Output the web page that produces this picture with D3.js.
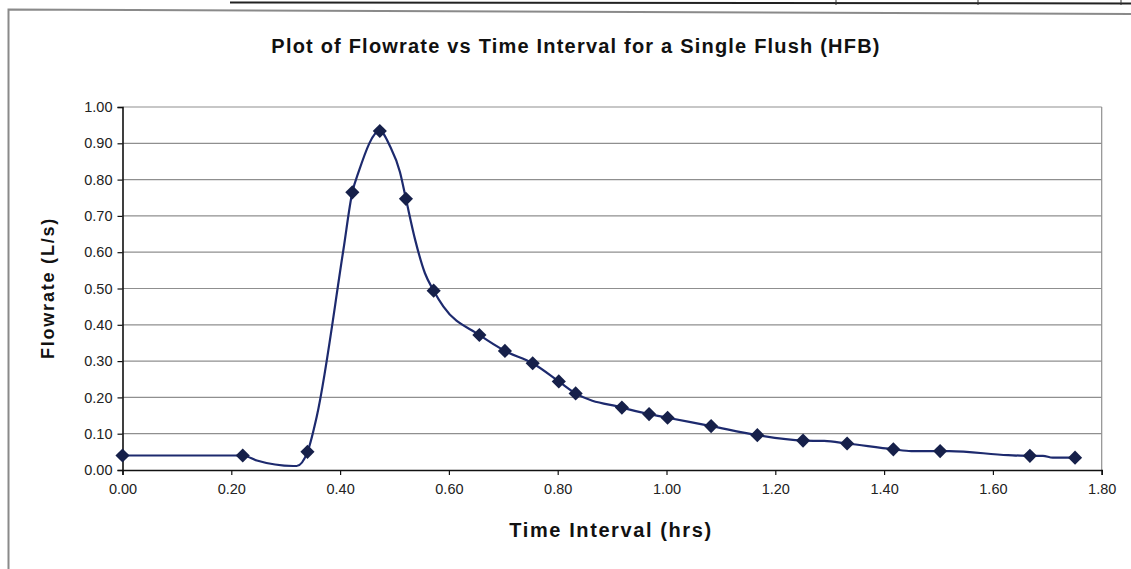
<!DOCTYPE html>
<html>
<head>
<meta charset="utf-8">
<script src="https://cdn.jsdelivr.net/npm/d3@7"></script>
<style>
  html, body { margin: 0; padding: 0; background: #fff; }
  svg { display: block; }
  text { font-family: "Liberation Sans", Arial, sans-serif; }
</style>
</head>
<body>
<svg id="chart" width="1131" height="569"></svg>
<script>
// ---- data ----
const titleText = "Plot of Flowrate vs Time Interval for a Single Flush (HFB)";
const xTitle = "Time Interval (hrs)";
const yTitle = "Flowrate (L/s)";

const xTicks = [0, 0.2, 0.4, 0.6, 0.8, 1.0, 1.2, 1.4, 1.6, 1.8];
const yTicks = [0, 0.1, 0.2, 0.3, 0.4, 0.5, 0.6, 0.7, 0.8, 0.9, 1.0];

// measured points (drawn with diamond markers)
const markerTime = [0, 0.221, 0.340, 0.4225, 0.473, 0.521, 0.572, 0.656, 0.703, 0.754, 0.802, 0.833,
  0.918, 0.968, 1.002, 1.082, 1.167, 1.251, 1.332, 1.417, 1.503, 1.668, 1.751];
const markerFlow = [0.040, 0.040, 0.050, 0.765, 0.934, 0.747, 0.494, 0.372, 0.328, 0.294, 0.244, 0.211,
  0.172, 0.154, 0.144, 0.121, 0.096, 0.081, 0.073, 0.057, 0.052, 0.039, 0.034];

// smoothed trace (line only)
const lineTime = [0, 0.221, 0.247, 0.314, 0.320, 0.340, 0.357, 0.406, 0.4225, 0.434, 0.473, 0.492,
  0.510, 0.521, 0.538, 0.556, 0.572, 0.590, 0.656, 0.703, 0.754, 0.802, 0.833, 0.918, 0.968, 1.002,
  1.082, 1.167, 1.251, 1.290, 1.332, 1.417, 1.450, 1.503, 1.520, 1.628, 1.668, 1.692, 1.710, 1.751];
const lineFlow = [0.040, 0.040, 0.026, 0.011, 0.011, 0.050, 0.147, 0.606, 0.765, 0.821, 0.934, 0.891,
  0.821, 0.747, 0.634, 0.542, 0.494, 0.450, 0.372, 0.328, 0.294, 0.244, 0.211, 0.172, 0.154, 0.144,
  0.121, 0.096, 0.081, 0.080, 0.073, 0.057, 0.052, 0.052, 0.052, 0.041, 0.039, 0.039, 0.034, 0.034];

// ---- layout ----
const svg = d3.select("#chart");
const plot = { left: 122.5, right: 1101.7, top: 107, bottom: 470 };

const x = d3.scaleLinear().domain([0, 1.8]).range([plot.left, plot.right]);
const y = d3.scaleLinear().domain([0, 1.0]).range([plot.bottom, plot.top]);

// page decoration (table edge above and chart frame)
svg.append("line").attr("x1", 230).attr("x2", 1131).attr("y1", 2.5).attr("y2", 3.5)
  .attr("stroke", "#222").attr("stroke-width", 2);
[836, 978, 1121].forEach(v => svg.append("line").attr("x1", v).attr("x2", v)
  .attr("y1", 0).attr("y2", 5).attr("stroke", "#333").attr("stroke-width", 1));
svg.append("path").attr("d", "M8.5,569 L8.5,9.5 L1131,14")
  .attr("fill", "none").attr("stroke", "#8a8a8a").attr("stroke-width", 2);

// gridlines
svg.append("g").selectAll("line").data(yTicks.filter(d => d > 0)).join("line")
  .attr("x1", plot.left).attr("x2", plot.right)
  .attr("y1", d => y(d)).attr("y2", d => y(d))
  .attr("stroke", "#8f8f8f").attr("stroke-width", 1.2);
// plot area right border
svg.append("line").attr("x1", plot.right).attr("x2", plot.right)
  .attr("y1", plot.top).attr("y2", plot.bottom)
  .attr("stroke", "#8f8f8f").attr("stroke-width", 1.2);

// axes
const yAxis = d3.axisLeft(y).tickValues(yTicks).tickFormat(d3.format(".2f")).tickSizeOuter(0).tickSize(5).tickPadding(5);
const xAxis = d3.axisBottom(x).tickValues(xTicks).tickFormat(d3.format(".2f")).tickSizeOuter(0).tickSize(5).tickPadding(9);

const gy = svg.append("g").attr("transform", `translate(${plot.left},0)`).call(yAxis);
const gx = svg.append("g").attr("transform", `translate(0,${plot.bottom})`).call(xAxis);
[gx, gy].forEach(g => {
  g.select(".domain").attr("stroke", "#111").attr("stroke-width", 1.6);
  g.selectAll(".tick line").attr("stroke", "#111").attr("stroke-width", 1.2);
  g.selectAll(".tick text").attr("fill", "#222").style("font-size", "14.5px")
    .style("font-family", "'Liberation Sans', Arial, sans-serif");
});

// line
const lineData = lineTime.map((t, i) => [t, lineFlow[i]]);
svg.append("path").datum(lineData)
  .attr("fill", "none").attr("stroke", "#1d2a6e").attr("stroke-width", 2.2)
  .attr("d", d3.line().x(d => x(d[0])).y(d => y(d[1])).curve(d3.curveMonotoneX));

// markers
const markerData = markerTime.map((t, i) => [t, markerFlow[i]]);
const diamond = d3.symbol().type(d3.symbolSquare).size(100);
svg.append("g").selectAll("path").data(markerData).join("path")
  .attr("d", diamond)
  .attr("transform", d => `translate(${x(d[0])},${y(d[1])}) rotate(45)`)
  .attr("fill", "#16204a");

// titles
svg.append("text").attr("x", 576).attr("y", 53).attr("text-anchor", "middle")
  .style("font-size", "20px").style("font-weight", "bold").style("letter-spacing", "1.2px")
  .attr("fill", "#111").text(titleText);

svg.append("text").attr("x", 611).attr("y", 537).attr("text-anchor", "middle")
  .style("font-size", "20px").style("font-weight", "bold").style("letter-spacing", "1.6px")
  .attr("fill", "#111").text(xTitle);

svg.append("text").attr("transform", "translate(54,288) rotate(-90)").attr("text-anchor", "middle")
  .style("font-size", "18px").style("font-weight", "bold").style("letter-spacing", "1.8px")
  .attr("fill", "#111").text(yTitle);
</script>
</body>
</html>
